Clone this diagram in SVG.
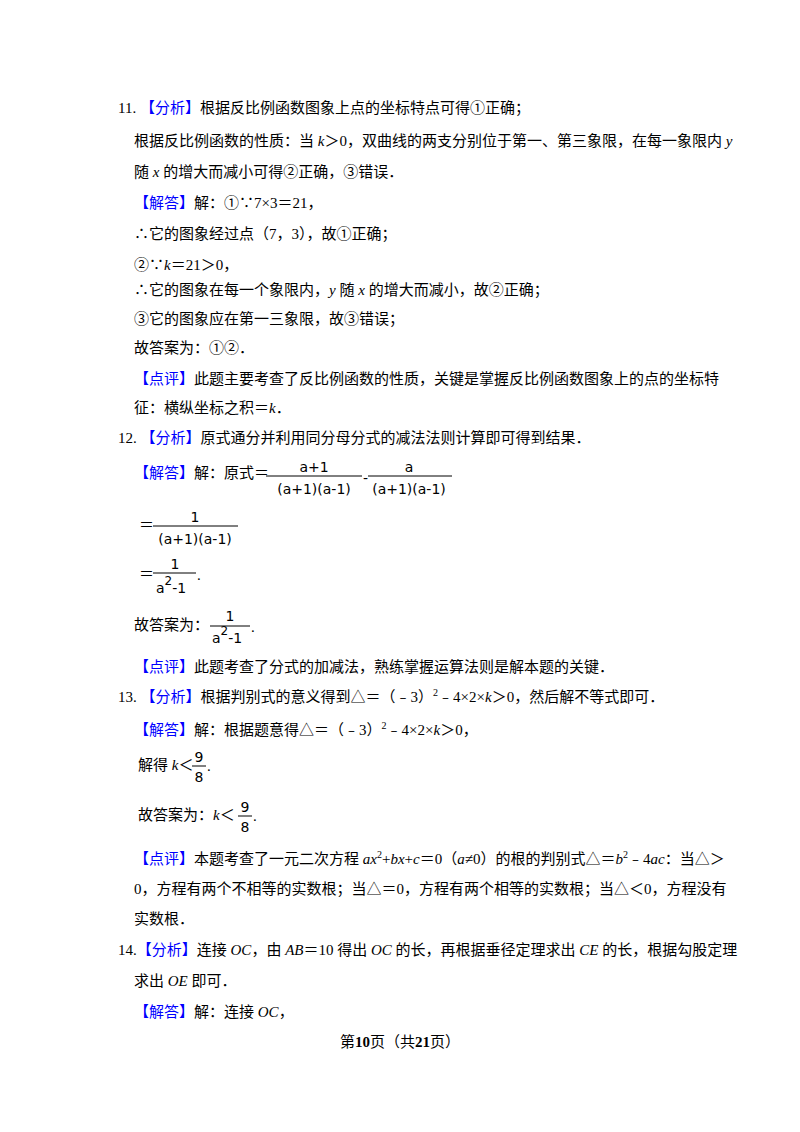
<svg xmlns="http://www.w3.org/2000/svg" width="800" height="1132" viewBox="0 0 800 1132">
<style>
text{font-family:"Liberation Serif","Noto Sans CJK SC",serif;font-size:15px;fill:#000}
.b{fill:#0000ff}
.i{font-style:italic}
.m{font-family:"DejaVu Sans","Noto Sans CJK SC",sans-serif;font-size:14px}
line{stroke:#000;stroke-width:1}
</style>
<rect width="800" height="1132" fill="#fff"/>
<text x="118" y="113">11.  <tspan class="b">【分析】</tspan>根据反比例函数图象上点的坐标特点可得①正确；</text>
<text x="134" y="146">根据反比例函数的性质：当 <tspan class="i">k</tspan>＞0，双曲线的两支分别位于第一、第三象限，在每一象限内 <tspan class="i">y</tspan></text>
<text x="134" y="177">随 <tspan class="i">x</tspan> 的增大而减小可得②正确，③错误．</text>
<text x="134" y="208"><tspan class="b">【解答】</tspan>解：①∵7×3＝21，</text>
<text x="134" y="239">∴它的图象经过点（7，3），故①正确；</text>
<text x="134" y="270">②∵<tspan class="i">k</tspan>＝21＞0，</text>
<text x="134" y="295">∴它的图象在每一个象限内，<tspan class="i">y</tspan> 随 <tspan class="i">x</tspan> 的增大而减小，故②正确；</text>
<text x="134" y="324">③它的图象应在第一三象限，故③错误；</text>
<text x="134" y="353">故答案为：①②．</text>
<text x="134" y="384"><tspan class="b">【点评】</tspan>此题主要考查了反比例函数的性质，关键是掌握反比例函数图象上的点的坐标特</text>
<text x="134" y="413">征：横纵坐标之积＝<tspan class="i">k</tspan>．</text>
<text x="118" y="443">12.  <tspan class="b">【分析】</tspan>原式通分并利用同分母分式的减法法则计算即可得到结果．</text>
<text x="134" y="478"><tspan class="b">【解答】</tspan>解：原式＝</text>
<text class="m" x="314" y="472" text-anchor="middle">a+1</text>
<line x1="266" y1="476" x2="362" y2="476"/>
<text class="m" x="314" y="494" text-anchor="middle">(a+1)(a-1)</text>
<text class="m" x="363" y="483">-</text>
<text class="m" x="409" y="472" text-anchor="middle">a</text>
<line x1="368" y1="476" x2="452" y2="476"/>
<text class="m" x="409" y="494" text-anchor="middle">(a+1)(a-1)</text>
<text x="139" y="530">＝</text>
<line x1="153" y1="526" x2="238" y2="526"/>
<text class="m" x="195" y="522" text-anchor="middle">1</text>
<text class="m" x="195" y="544" text-anchor="middle">(a+1)(a-1)</text>
<text x="139" y="579">＝</text>
<line x1="153" y1="573" x2="196" y2="573"/>
<text class="m" x="175" y="569" text-anchor="middle">1</text>
<text class="m" x="156" y="593">a<tspan dy="-8" font-size="12">2</tspan><tspan dy="8">-1</tspan></text>
<text x="197" y="580">.</text>
<text x="134" y="630">故答案为：</text>
<line x1="210" y1="626" x2="250" y2="626"/>
<text class="m" x="230" y="621" text-anchor="middle">1</text>
<text class="m" x="212" y="643">a<tspan dy="-8" font-size="12">2</tspan><tspan dy="8">-1</tspan></text>
<text x="251" y="632">.</text>
<text x="134" y="672"><tspan class="b">【点评】</tspan>此题考查了分式的加减法，熟练掌握运算法则是解本题的关键．</text>
<text x="118" y="702">13.  <tspan class="b">【分析】</tspan>根据判别式的意义得到△＝（﹣3）<tspan dy="-6" font-size="10">2</tspan><tspan dy="6">﹣4×2×<tspan class="i">k</tspan>＞0，然后解不等式即可．</tspan></text>
<text x="134" y="735"><tspan class="b">【解答】</tspan>解：根据题意得△＝（﹣3）<tspan dy="-6" font-size="10">2</tspan><tspan dy="6">﹣4×2×<tspan class="i">k</tspan>＞0，</tspan></text>
<text x="138" y="770">解得 <tspan class="i">k</tspan>＜</text>
<text class="m" x="199" y="762" text-anchor="middle">9</text>
<line x1="192" y1="766" x2="206" y2="766"/>
<text class="m" x="199" y="782" text-anchor="middle">8</text>
<text x="207" y="771">.</text>
<text x="138" y="820">故答案为：<tspan class="i">k</tspan>＜</text>
<text class="m" x="245" y="812" text-anchor="middle">9</text>
<line x1="238" y1="816" x2="252" y2="816"/>
<text class="m" x="245" y="832" text-anchor="middle">8</text>
<text x="253" y="821">.</text>
<text x="134" y="864"><tspan class="b">【点评】</tspan>本题考查了一元二次方程 <tspan class="i">ax</tspan><tspan dy="-6" font-size="10">2</tspan><tspan dy="6">+<tspan class="i">bx</tspan>+<tspan class="i">c</tspan>＝0（<tspan class="i">a</tspan>≠0）的根的判别式△＝<tspan class="i">b</tspan></tspan><tspan dy="-6" font-size="10">2</tspan><tspan dy="6">﹣4<tspan class="i">ac</tspan>：当△＞</tspan></text>
<text x="134" y="894">0，方程有两个不相等的实数根；当△＝0，方程有两个相等的实数根；当△＜0，方程没有</text>
<text x="134" y="924">实数根．</text>
<text x="118" y="955">14.<tspan class="b">【分析】</tspan>连接 <tspan class="i">OC</tspan>，由 <tspan class="i">AB</tspan>＝10 得出 <tspan class="i">OC</tspan> 的长，再根据垂径定理求出 <tspan class="i">CE</tspan> 的长，根据勾股定理</text>
<text x="134" y="986">求出 <tspan class="i">OE</tspan> 即可．</text>
<text x="134" y="1017"><tspan class="b">【解答】</tspan>解：连接 <tspan class="i">OC</tspan>，</text>
<text x="400" y="1047" text-anchor="middle" font-size="13">第<tspan font-weight="bold" font-size="15">10</tspan>页（共<tspan font-weight="bold" font-size="15">21</tspan>页）</text>
</svg>
